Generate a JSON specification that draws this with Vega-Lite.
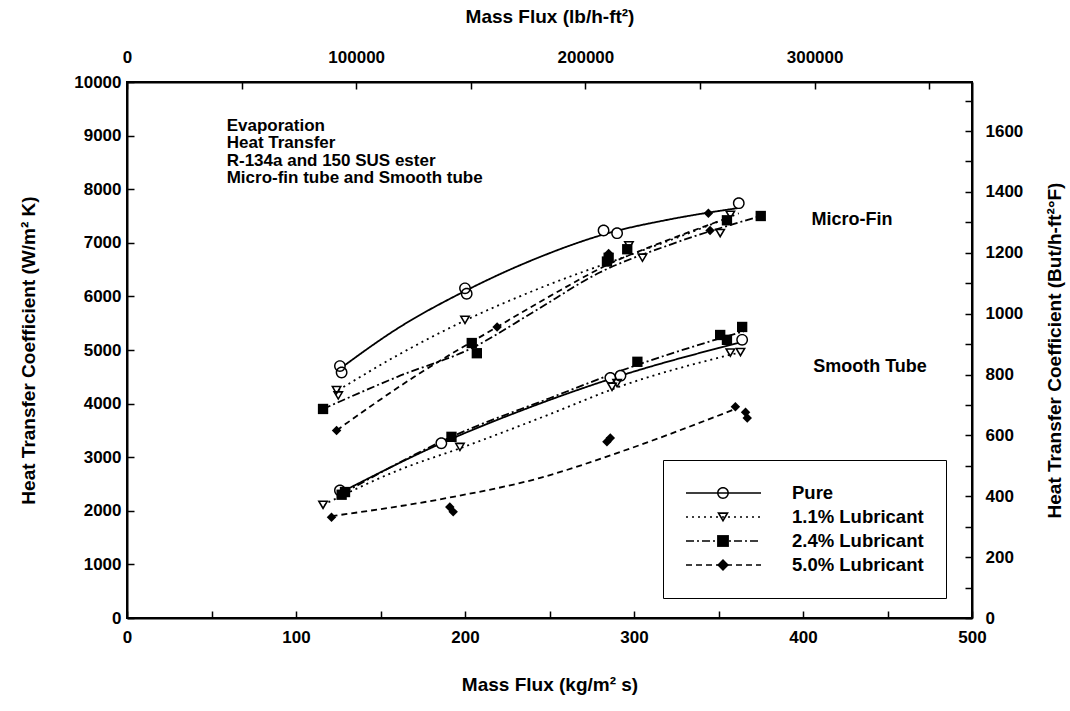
{
  "$schema": "https://vega.github.io/schema/vega-lite/v6.json",
  "width": 845,
  "height": 536,
  "autosize": {"type": "none"},
  "padding": {"left": 127, "top": 82, "right": 98, "bottom": 93},
  "background": "white",
  "config": {
    "font": "Liberation Sans",
    "view": {"stroke": "black", "strokeWidth": 2},
    "axis": {
      "domainColor": "black", "domainWidth": 2, "tickColor": "black", "tickWidth": 1.5, "tickSize": -7,
      "labelFont": "Liberation Sans", "labelFontSize": 17, "labelFontWeight": "bold", "labelColor": "black",
      "titleFont": "Liberation Sans", "titleFontSize": 19, "titleFontWeight": "bold", "titleColor": "black",
      "grid": false, "labelOverlap": false, "labelFlush": false, "labelBound": false
    }
  },
  "datasets": {
    "curves": [
      {"tube": "Micro-Fin", "lube": "Pure", "flux": 126, "htc": 4650},
      {"tube": "Micro-Fin", "lube": "Pure", "flux": 160, "htc": 5400},
      {"tube": "Micro-Fin", "lube": "Pure", "flux": 200, "htc": 6100},
      {"tube": "Micro-Fin", "lube": "Pure", "flux": 240, "htc": 6680},
      {"tube": "Micro-Fin", "lube": "Pure", "flux": 287, "htc": 7200},
      {"tube": "Micro-Fin", "lube": "Pure", "flux": 320, "htc": 7430},
      {"tube": "Micro-Fin", "lube": "Pure", "flux": 362, "htc": 7650},
      {"tube": "Micro-Fin", "lube": "1.1% Lubricant", "flux": 125, "htc": 4250},
      {"tube": "Micro-Fin", "lube": "1.1% Lubricant", "flux": 160, "htc": 4900},
      {"tube": "Micro-Fin", "lube": "1.1% Lubricant", "flux": 200, "htc": 5550},
      {"tube": "Micro-Fin", "lube": "1.1% Lubricant", "flux": 244, "htc": 6150},
      {"tube": "Micro-Fin", "lube": "1.1% Lubricant", "flux": 300, "htc": 6800},
      {"tube": "Micro-Fin", "lube": "1.1% Lubricant", "flux": 330, "htc": 7150},
      {"tube": "Micro-Fin", "lube": "1.1% Lubricant", "flux": 362, "htc": 7550},
      {"tube": "Micro-Fin", "lube": "2.4% Lubricant", "flux": 116, "htc": 3900},
      {"tube": "Micro-Fin", "lube": "2.4% Lubricant", "flux": 160, "htc": 4500},
      {"tube": "Micro-Fin", "lube": "2.4% Lubricant", "flux": 205, "htc": 5050},
      {"tube": "Micro-Fin", "lube": "2.4% Lubricant", "flux": 240, "htc": 5700},
      {"tube": "Micro-Fin", "lube": "2.4% Lubricant", "flux": 280, "htc": 6450},
      {"tube": "Micro-Fin", "lube": "2.4% Lubricant", "flux": 320, "htc": 6950},
      {"tube": "Micro-Fin", "lube": "2.4% Lubricant", "flux": 375, "htc": 7500},
      {"tube": "Micro-Fin", "lube": "5.0% Lubricant", "flux": 124, "htc": 3500},
      {"tube": "Micro-Fin", "lube": "5.0% Lubricant", "flux": 170, "htc": 4500},
      {"tube": "Micro-Fin", "lube": "5.0% Lubricant", "flux": 219, "htc": 5430},
      {"tube": "Micro-Fin", "lube": "5.0% Lubricant", "flux": 250, "htc": 6000},
      {"tube": "Micro-Fin", "lube": "5.0% Lubricant", "flux": 285, "htc": 6600},
      {"tube": "Micro-Fin", "lube": "5.0% Lubricant", "flux": 320, "htc": 7050},
      {"tube": "Micro-Fin", "lube": "5.0% Lubricant", "flux": 350, "htc": 7400},
      {"tube": "Smooth", "lube": "Pure", "flux": 127, "htc": 2350},
      {"tube": "Smooth", "lube": "Pure", "flux": 186, "htc": 3260},
      {"tube": "Smooth", "lube": "Pure", "flux": 240, "htc": 3950},
      {"tube": "Smooth", "lube": "Pure", "flux": 290, "htc": 4500},
      {"tube": "Smooth", "lube": "Pure", "flux": 364, "htc": 5150},
      {"tube": "Smooth", "lube": "1.1% Lubricant", "flux": 116, "htc": 2110},
      {"tube": "Smooth", "lube": "1.1% Lubricant", "flux": 160, "htc": 2750},
      {"tube": "Smooth", "lube": "1.1% Lubricant", "flux": 200, "htc": 3200},
      {"tube": "Smooth", "lube": "1.1% Lubricant", "flux": 250, "htc": 3800},
      {"tube": "Smooth", "lube": "1.1% Lubricant", "flux": 290, "htc": 4300},
      {"tube": "Smooth", "lube": "1.1% Lubricant", "flux": 362, "htc": 4950},
      {"tube": "Smooth", "lube": "2.4% Lubricant", "flux": 128, "htc": 2330},
      {"tube": "Smooth", "lube": "2.4% Lubricant", "flux": 192, "htc": 3380},
      {"tube": "Smooth", "lube": "2.4% Lubricant", "flux": 250, "htc": 4100},
      {"tube": "Smooth", "lube": "2.4% Lubricant", "flux": 300, "htc": 4700},
      {"tube": "Smooth", "lube": "2.4% Lubricant", "flux": 365, "htc": 5350},
      {"tube": "Smooth", "lube": "5.0% Lubricant", "flux": 121, "htc": 1900},
      {"tube": "Smooth", "lube": "5.0% Lubricant", "flux": 193, "htc": 2260},
      {"tube": "Smooth", "lube": "5.0% Lubricant", "flux": 244, "htc": 2610},
      {"tube": "Smooth", "lube": "5.0% Lubricant", "flux": 292, "htc": 3100},
      {"tube": "Smooth", "lube": "5.0% Lubricant", "flux": 360, "htc": 3900}
    ],
    "points": [
      {"tube": "Micro-Fin", "lube": "Pure", "flux": 126, "htc": 4700},
      {"tube": "Micro-Fin", "lube": "Pure", "flux": 127, "htc": 4580},
      {"tube": "Micro-Fin", "lube": "Pure", "flux": 200, "htc": 6150},
      {"tube": "Micro-Fin", "lube": "Pure", "flux": 201, "htc": 6050},
      {"tube": "Micro-Fin", "lube": "Pure", "flux": 282, "htc": 7230},
      {"tube": "Micro-Fin", "lube": "Pure", "flux": 290, "htc": 7180},
      {"tube": "Micro-Fin", "lube": "Pure", "flux": 362, "htc": 7740},
      {"tube": "Micro-Fin", "lube": "1.1% Lubricant", "flux": 124, "htc": 4250},
      {"tube": "Micro-Fin", "lube": "1.1% Lubricant", "flux": 125, "htc": 4150},
      {"tube": "Micro-Fin", "lube": "1.1% Lubricant", "flux": 200, "htc": 5560},
      {"tube": "Micro-Fin", "lube": "1.1% Lubricant", "flux": 297, "htc": 6950},
      {"tube": "Micro-Fin", "lube": "1.1% Lubricant", "flux": 305, "htc": 6720},
      {"tube": "Micro-Fin", "lube": "1.1% Lubricant", "flux": 351, "htc": 7180},
      {"tube": "Micro-Fin", "lube": "1.1% Lubricant", "flux": 357, "htc": 7520},
      {"tube": "Micro-Fin", "lube": "2.4% Lubricant", "flux": 116, "htc": 3900},
      {"tube": "Micro-Fin", "lube": "2.4% Lubricant", "flux": 204, "htc": 5130},
      {"tube": "Micro-Fin", "lube": "2.4% Lubricant", "flux": 207, "htc": 4940},
      {"tube": "Micro-Fin", "lube": "2.4% Lubricant", "flux": 284, "htc": 6650},
      {"tube": "Micro-Fin", "lube": "2.4% Lubricant", "flux": 285, "htc": 6720},
      {"tube": "Micro-Fin", "lube": "2.4% Lubricant", "flux": 296, "htc": 6880},
      {"tube": "Micro-Fin", "lube": "2.4% Lubricant", "flux": 355, "htc": 7420},
      {"tube": "Micro-Fin", "lube": "2.4% Lubricant", "flux": 375, "htc": 7500},
      {"tube": "Micro-Fin", "lube": "5.0% Lubricant", "flux": 124, "htc": 3500},
      {"tube": "Micro-Fin", "lube": "5.0% Lubricant", "flux": 219, "htc": 5430},
      {"tube": "Micro-Fin", "lube": "5.0% Lubricant", "flux": 285, "htc": 6800},
      {"tube": "Micro-Fin", "lube": "5.0% Lubricant", "flux": 344, "htc": 7550},
      {"tube": "Micro-Fin", "lube": "5.0% Lubricant", "flux": 345, "htc": 7230},
      {"tube": "Smooth", "lube": "Pure", "flux": 126, "htc": 2380},
      {"tube": "Smooth", "lube": "Pure", "flux": 186, "htc": 3260},
      {"tube": "Smooth", "lube": "Pure", "flux": 286, "htc": 4480},
      {"tube": "Smooth", "lube": "Pure", "flux": 292, "htc": 4520},
      {"tube": "Smooth", "lube": "Pure", "flux": 364, "htc": 5190},
      {"tube": "Smooth", "lube": "1.1% Lubricant", "flux": 116, "htc": 2110},
      {"tube": "Smooth", "lube": "1.1% Lubricant", "flux": 197, "htc": 3190},
      {"tube": "Smooth", "lube": "1.1% Lubricant", "flux": 287, "htc": 4310},
      {"tube": "Smooth", "lube": "1.1% Lubricant", "flux": 290, "htc": 4380},
      {"tube": "Smooth", "lube": "1.1% Lubricant", "flux": 357, "htc": 4950},
      {"tube": "Smooth", "lube": "1.1% Lubricant", "flux": 363, "htc": 4960},
      {"tube": "Smooth", "lube": "2.4% Lubricant", "flux": 127, "htc": 2300},
      {"tube": "Smooth", "lube": "2.4% Lubricant", "flux": 129, "htc": 2350},
      {"tube": "Smooth", "lube": "2.4% Lubricant", "flux": 192, "htc": 3380},
      {"tube": "Smooth", "lube": "2.4% Lubricant", "flux": 302, "htc": 4780},
      {"tube": "Smooth", "lube": "2.4% Lubricant", "flux": 351, "htc": 5280},
      {"tube": "Smooth", "lube": "2.4% Lubricant", "flux": 355, "htc": 5190},
      {"tube": "Smooth", "lube": "2.4% Lubricant", "flux": 364, "htc": 5430},
      {"tube": "Smooth", "lube": "5.0% Lubricant", "flux": 121, "htc": 1880},
      {"tube": "Smooth", "lube": "5.0% Lubricant", "flux": 191, "htc": 2070},
      {"tube": "Smooth", "lube": "5.0% Lubricant", "flux": 193, "htc": 1980},
      {"tube": "Smooth", "lube": "5.0% Lubricant", "flux": 284, "htc": 3290},
      {"tube": "Smooth", "lube": "5.0% Lubricant", "flux": 286, "htc": 3360},
      {"tube": "Smooth", "lube": "5.0% Lubricant", "flux": 360, "htc": 3940},
      {"tube": "Smooth", "lube": "5.0% Lubricant", "flux": 366, "htc": 3840},
      {"tube": "Smooth", "lube": "5.0% Lubricant", "flux": 367, "htc": 3730}
    ]
  },
  "layer": [
    {
      "layer": [
        {
          "data": {"name": "curves"},
          "mark": {"type": "line", "interpolate": "monotone", "strokeWidth": 1.8, "color": "black"},
          "encoding": {
            "x": {"field": "flux", "type": "quantitative", "scale": {"domain": [0, 500], "nice": false, "zero": false},
                  "axis": {"orient": "bottom", "title": "Mass Flux (kg/m² s)", "values": [0, 50, 100, 150, 200, 250, 300, 350, 400, 450, 500],
                           "labelExpr": "datum.value % 100 === 0 ? datum.label : ''", "labelPadding": 18, "titlePadding": 30}},
            "y": {"field": "htc", "type": "quantitative", "scale": {"domain": [0, 10000], "nice": false},
                  "axis": {"orient": "left", "title": "Heat Transfer Coefficient (W/m² K)", "format": "d",
                           "values": [0, 500, 1000, 1500, 2000, 2500, 3000, 3500, 4000, 4500, 5000, 5500, 6000, 6500, 7000, 7500, 8000, 8500, 9000, 9500, 10000],
                           "labelExpr": "datum.value % 1000 === 0 ? datum.label : ''", "labelPadding": 13, "titlePadding": 35}},
            "detail": {"field": "tube", "type": "nominal"},
            "strokeDash": {"field": "lube", "type": "nominal",
              "scale": {"domain": ["Pure", "1.1% Lubricant", "2.4% Lubricant", "5.0% Lubricant"], "range": [[1, 0], [2, 4], [8, 3, 2, 3], [6, 4]]},
              "legend": {"orient": "none", "legendX": 536, "legendY": 378, "title": null, "symbolType": "stroke", "symbolSize": 5625,
                         "symbolStrokeWidth": 1.5, "symbolStrokeColor": "black", "clipHeight": 22, "rowPadding": 2, "padding": 22,
                         "labelOffset": 30, "labelFontSize": 18.5, "labelFont": "Liberation Sans", "labelFontWeight": "bold", "labelColor": "black",
                         "strokeColor": "black", "fillColor": "white", "zindex": 0}}
          }
        },
        {
          "data": {"name": "points"},
          "transform": [{"filter": "datum.lube === 'Pure'"}],
          "mark": {"type": "point", "filled": true, "fill": "white", "strokeWidth": 0, "opacity": 1, "size": 150,
                   "shape": "M0.78,0A0.78,0.78,0,1,1,-0.78,0A0.78,0.78,0,1,1,0.78,0Z"},
          "encoding": {
            "x": {"field": "flux", "type": "quantitative"},
            "y": {"field": "htc", "type": "quantitative"}
          }
        },
        {
          "data": {"name": "points"},
          "transform": [{"filter": "datum.lube === '1.1% Lubricant'"}],
          "mark": {"type": "point", "filled": true, "fill": "white", "strokeWidth": 0, "opacity": 1, "size": 150,
                   "shape": "M-0.53,-0.53L0.53,-0.53L0,0.37Z"},
          "encoding": {
            "x": {"field": "flux", "type": "quantitative"},
            "y": {"field": "htc", "type": "quantitative"}
          }
        },
        {
          "data": {"name": "points"},
          "mark": {"type": "point", "filled": true, "color": "black", "strokeWidth": 0, "opacity": 1},
          "encoding": {
            "x": {"field": "flux", "type": "quantitative"},
            "y": {"field": "htc", "type": "quantitative"},
            "shape": {"field": "lube", "type": "nominal",
              "scale": {"domain": ["1.1% Lubricant", "2.4% Lubricant", "5.0% Lubricant", "Pure"],
                        "range": ["M-1,-0.8L1,-0.8L0,0.9Z M-0.51,-0.52L0,0.347L0.51,-0.52Z", "square", "diamond",
                                  "M1,0A1,1,0,1,1,-1,0A1,1,0,1,1,1,0Z M0.76,0A0.76,0.76,0,1,0,-0.76,0A0.76,0.76,0,1,0,0.76,0Z"]},
              "legend": {"orient": "none", "legendX": 568, "legendY": 378, "title": null, "values": ["Pure", "1.1% Lubricant", "2.4% Lubricant", "5.0% Lubricant"],
                         "clipHeight": 22, "rowPadding": 2, "padding": 22, "labelExpr": "''", "symbolFillColor": "black", "symbolStrokeColor": "black",
                         "symbolStrokeWidth": 0, "symbolSize": 140, "zindex": 2}},
            "size": {"field": "lube", "type": "nominal",
              "scale": {"domain": ["5.0% Lubricant", "2.4% Lubricant", "1.1% Lubricant", "Pure"], "range": [90, 140, 150, 150]},
              "legend": null}
          }
        },
        {
          "data": {"values": [{}]},
          "mark": {"type": "text", "align": "left", "baseline": "top", "fontSize": 17, "fontWeight": "bold", "lineHeight": 17.5, "color": "black", "font": "Liberation Sans"},
          "encoding": {
            "x": {"datum": 59, "type": "quantitative"},
            "y": {"datum": 9330, "type": "quantitative"},
            "text": {"value": ["Evaporation", "Heat Transfer", "R-134a and 150 SUS ester", "Micro-fin tube and Smooth tube"]}
          }
        },
        {
          "data": {"values": [{}]},
          "mark": {"type": "text", "align": "left", "baseline": "middle", "fontSize": 18, "fontWeight": "bold", "color": "black", "font": "Liberation Sans"},
          "encoding": {
            "x": {"datum": 405, "type": "quantitative"},
            "y": {"datum": 7425, "type": "quantitative"},
            "text": {"value": "Micro-Fin"}
          }
        },
        {
          "data": {"values": [{}]},
          "mark": {"type": "text", "align": "left", "baseline": "middle", "fontSize": 18, "fontWeight": "bold", "color": "black", "font": "Liberation Sans"},
          "encoding": {
            "x": {"datum": 406, "type": "quantitative"},
            "y": {"datum": 4683, "type": "quantitative"},
            "text": {"value": "Smooth Tube"}
          }
        }
      ]
    },
    {
      "data": {"values": [{"lb": 0, "btu": 0}]},
      "mark": {"type": "point", "opacity": 0},
      "encoding": {
        "x": {"field": "lb", "type": "quantitative", "scale": {"domain": [0, 368670], "nice": false, "zero": false},
              "axis": {"orient": "top", "title": "Mass Flux (lb/h-ft²)", "format": "d",
                       "values": [0, 50000, 100000, 150000, 200000, 250000, 300000, 350000],
                       "labelExpr": "datum.value % 100000 === 0 ? datum.label : ''", "labelPadding": 23, "titlePadding": 22}},
        "y": {"field": "btu", "type": "quantitative", "scale": {"domain": [0, 1761.1], "nice": false},
              "axis": {"orient": "right", "title": "Heat Transfer Coefficient (But/h-ft²°F)", "format": "d", "titleAngle": 270,
                       "values": [0, 100, 200, 300, 400, 500, 600, 700, 800, 900, 1000, 1100, 1200, 1300, 1400, 1500, 1600, 1700],
                       "labelExpr": "datum.value % 200 === 0 ? datum.label : ''", "labelPadding": 20, "titlePadding": 42}}
      }
    }
  ],
  "resolve": {"scale": {"x": "independent", "y": "independent"}}
}
